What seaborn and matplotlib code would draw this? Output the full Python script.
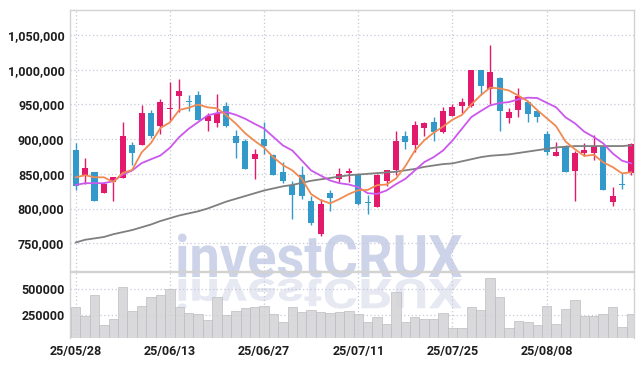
import numpy as np
import pandas as pd
import matplotlib
matplotlib.use("Agg")
import matplotlib.pyplot as plt
import seaborn as sns
from matplotlib.textpath import TextPath
from matplotlib.patches import PathPatch
from matplotlib.font_manager import FontProperties
from matplotlib.transforms import Affine2D, IdentityTransform
from matplotlib.ticker import FuncFormatter, FixedLocator

# ---------------- data ----------------
dates = ["25/05/28", "25/05/29", "25/05/30", "25/06/02", "25/06/04", "25/06/05",
         "25/06/09", "25/06/10", "25/06/11", "25/06/12", "25/06/13", "25/06/16",
         "25/06/17", "25/06/18", "25/06/19", "25/06/20", "25/06/23", "25/06/24",
         "25/06/25", "25/06/26", "25/06/27", "25/06/30", "25/07/01", "25/07/02",
         "25/07/03", "25/07/04", "25/07/07", "25/07/08", "25/07/09", "25/07/10",
         "25/07/11", "25/07/14", "25/07/15", "25/07/16", "25/07/17", "25/07/18",
         "25/07/21", "25/07/22", "25/07/23", "25/07/24", "25/07/25", "25/07/28",
         "25/07/29", "25/07/30", "25/07/31", "25/08/01", "25/08/04", "25/08/05",
         "25/08/06", "25/08/07", "25/08/08", "25/08/11", "25/08/12", "25/08/13",
         "25/08/14", "25/08/18", "25/08/19", "25/08/20", "25/08/21", "25/08/22"]

open_ = [885000, 848000, 852000, 822000, 838000, 844000, 892000, 891000, 937000, 919000,
         943000, 962000, 955000, 964000, 926000, 923000, 947000, 905000, 898000, 871000,
         900000, 877000, 853000, 834000, 848000, 811000, 763000, 822000, 843000, 851000,
         848000, 809000, 802000, 839000, 856000, 905000, 891000, 916000, 925000, 910000,
         933000, 947000, 948000, 999000, 972000, 988000, 931000, 942000, 953000, 940000,
         907000, 876000, 888000, 854000, 880000, 880000, 888000, 810000, 836000, 851000]
high = [894000, 873000, 853000, 838000, 846000, 924000, 896000, 949000, 942000, 958000,
        982000, 987000, 964000, 970000, 938000, 965000, 954000, 913000, 900000, 886000,
        925000, 879000, 867000, 839000, 861000, 818000, 814000, 827000, 859000, 859000,
        850000, 820000, 850000, 855000, 912000, 911000, 926000, 924000, 932000, 946000,
        951000, 959000, 999000, 999000, 1036000, 989000, 945000, 973000, 953000, 940000,
        912000, 896000, 892000, 883000, 895000, 906000, 890000, 831000, 851000, 895000]
low = [826000, 835000, 811000, 822000, 811000, 844000, 863000, 891000, 902000, 907000,
       926000, 939000, 941000, 927000, 911000, 917000, 918000, 873000, 857000, 842000,
       879000, 848000, 837000, 785000, 814000, 776000, 761000, 797000, 838000, 838000,
       805000, 792000, 802000, 833000, 848000, 886000, 882000, 904000, 898000, 909000,
       933000, 937000, 946000, 963000, 951000, 911000, 923000, 932000, 925000, 924000,
       877000, 876000, 852000, 811000, 875000, 870000, 827000, 803000, 828000, 848000]
close = [832000, 858000, 811000, 836000, 846000, 905000, 880000, 937000, 904000, 954000,
         945000, 970000, 953000, 927000, 934000, 938000, 919000, 894000, 857000, 879000,
         890000, 848000, 839000, 819000, 818000, 779000, 806000, 815000, 850000, 854000,
         807000, 808000, 849000, 855000, 897000, 896000, 920000, 923000, 910000, 941000,
         946000, 954000, 999000, 976000, 996000, 940000, 939000, 962000, 936000, 932000,
         882000, 881000, 852000, 880000, 884000, 890000, 827000, 818000, 834000, 893000]

ma5 = [845000, 848000, 845000, 845000, 838000, 851200, 855600, 880800, 894400, 916000,
       924000, 942000, 945200, 949800, 945800, 944400, 934200, 922400, 908400, 897400,
       887800, 873600, 862600, 855000, 842800, 820600, 812200, 807400, 813600, 820800,
       826400, 826800, 833600, 834600, 843200, 861000, 883400, 898200, 909200, 918000,
       928000, 934800, 950000, 963200, 974200, 973000, 970000, 962600, 954600, 941800,
       930200, 918600, 896600, 885400, 875800, 877400, 866600, 859800, 850600, 852400]
ma20 = [834000, 836500, 836500, 836500, 839400, 849000, 854800, 865400, 871000, 876400,
        887500, 903000, 914900, 924500, 934000, 937500, 939000, 935000, 929300, 922000,
        915200, 903000, 890900, 883600, 869200, 854800, 847600, 840400, 836500, 834600,
        830800, 822100, 821100, 826000, 835000, 842800, 854800, 866800, 874000, 883600,
        898000, 914900, 931700, 940400, 948600, 951900, 953400, 957300, 959700, 959200,
        952400, 945800, 931400, 922700, 910700, 903000, 893900, 879500, 868900, 865000]
ma60 = [751000, 755000, 757000, 759000, 763000, 766000, 769000, 773000, 777000, 782000,
        786000, 790000, 793000, 796000, 800000, 805000, 810000, 814000, 818000, 822000,
        826000, 829000, 832000, 834000, 837000, 840000, 842000, 844000, 846000, 848000,
        849000, 850000, 851000, 852000, 853000, 855000, 857000, 860000, 862000, 864000,
        865000, 868000, 871000, 874000, 876000, 877000, 878000, 880000, 882000, 884000,
        886000, 888000, 889000, 890000, 890000, 890000, 890000, 890000, 890000, 891000]

volume = [327000, 244000, 442000, 154000, 212000, 519000, 288000, 340000, 423000, 442000,
          500000, 327000, 269000, 260000, 205000, 423000, 253000, 288000, 317000, 327000,
          337000, 263000, 186000, 327000, 279000, 301000, 279000, 269000, 279000, 295000,
          263000, 186000, 237000, 167000, 471000, 186000, 231000, 212000, 212000, 269000,
          125000, 125000, 327000, 298000, 606000, 423000, 125000, 192000, 183000, 157000,
          337000, 167000, 308000, 394000, 240000, 240000, 260000, 327000, 135000, 260000]

price_ticks = [750000, 800000, 850000, 900000, 950000, 1000000, 1050000]
volume_ticks = [250000, 500000]
date_tick_step = 10

# ---------------- style ----------------
UP = "#E3196C"
DOWN = "#3399CA"
C_MA5 = "#F08A52"
C_MA20 = "#CB57EC"
C_MA60 = "#7F7F7F"
GRID = "#C6C8DA"
SPINE = "#D2D2D2"

sns.set_theme(style="white")
plt.rcParams["font.family"] = ["Roboto", "DejaVu Sans"]
plt.rcParams["font.weight"] = "bold"

df = pd.DataFrame({"x": np.arange(len(dates)), "date": dates, "open": open_,
                   "high": high, "low": low, "close": close,
                   "ma5": ma5, "ma20": ma20, "ma60": ma60, "volume": volume})

W, H = 644, 366
fig = plt.figure(figsize=(W / 100, H / 100), dpi=100)
fig.patch.set_facecolor("white")

L, R = 70, 634
ax = fig.add_axes([L / W, 1 - 271 / H, (R - L) / W, (271 - 10) / H])
axv = fig.add_axes([L / W, 1 - 338 / H, (R - L) / W, (338 - 272) / H])
for a in (ax, axv):
    a.set_facecolor("none")

x = df["x"].to_numpy()
o = df["open"].to_numpy(); c = df["close"].to_numpy()
up = c >= o
cols = np.where(up, UP, DOWN)
body_bottom = np.minimum(o, c)
body_h = np.maximum(np.abs(c - o), 1500)

# wicks and bodies
ax.vlines(x, df["low"], df["high"], colors=cols, lw=1.0, zorder=3)
ax.bar(x, body_h, bottom=body_bottom, width=0.64, color=cols, linewidth=0, zorder=4)

# moving averages
sns.lineplot(data=df, x="x", y="ma60", ax=ax, color=C_MA60, lw=1.3, zorder=5)
sns.lineplot(data=df, x="x", y="ma20", ax=ax, color=C_MA20, lw=1.3, zorder=5)
sns.lineplot(data=df, x="x", y="ma5", ax=ax, color=C_MA5, lw=1.3, zorder=6)

xlim = (-0.6, 59.27)
ax.set_xlim(*xlim)
ax.set_ylim(710000, 1086000)
ax.yaxis.set_major_locator(FixedLocator(price_ticks))
ax.yaxis.set_major_formatter(FuncFormatter(lambda v, p: f"{int(v):,}"))
tick_pos = list(range(0, len(dates), date_tick_step))
ax.set_xticks(tick_pos)
ax.set_xticklabels([])
ax.set_xlabel(""); ax.set_ylabel("")

# volume
axv.bar(x, df["volume"], width=1.0, color="#D3D3D5", edgecolor="#BEBEC2",
        linewidth=0.6, alpha=0.85, zorder=3)
axv.set_xlim(*xlim)
axv.set_ylim(32000, 666000)
axv.yaxis.set_major_locator(FixedLocator(volume_ticks))
axv.yaxis.set_major_formatter(FuncFormatter(lambda v, p: f"{int(v)}"))
axv.set_xticks(tick_pos)
axv.set_xticklabels([dates[i] for i in tick_pos], fontweight="bold")

for a in (ax, axv):
    a.set_axisbelow(True)
    a.grid(True, linestyle=(0, (1, 2)), color=GRID, lw=0.9)
    a.tick_params(length=0, pad=4, labelsize=9, labelcolor="#1E1E1E")
    for s in a.spines.values():
        s.set_color(SPINE)
        s.set_linewidth(1.0)
axv.tick_params(axis="x", pad=5)
axv.spines["bottom"].set_visible(False)

# watermark with reflection (behind the axes)
fp = FontProperties(family="Roboto", weight="bold")
tp = TextPath((0, 0), "investCRUX", size=50, prop=fp)
ext = tp.get_extents()
target_w, target_h = 284, 44
sx = target_w / ext.width
sy = target_h / ext.height
x0, base = 178, H - 277
t_main = Affine2D().translate(-ext.x0, 0).scale(sx, sy).translate(x0, base)
pm = PathPatch(t_main.transform_path(tp), facecolor="#CDD3E8", edgecolor="none",
               transform=IdentityTransform(), zorder=-2)
fig.add_artist(pm)
t_ref = Affine2D().translate(-ext.x0, 0).scale(sx, -sy * 0.7).translate(x0, base - 2)
pr = PathPatch(t_ref.transform_path(tp), facecolor="#E6E8F2", edgecolor="none",
               transform=IdentityTransform(), zorder=-2)
fig.add_artist(pr)

fig.savefig("out.png", dpi=100, facecolor="white")
